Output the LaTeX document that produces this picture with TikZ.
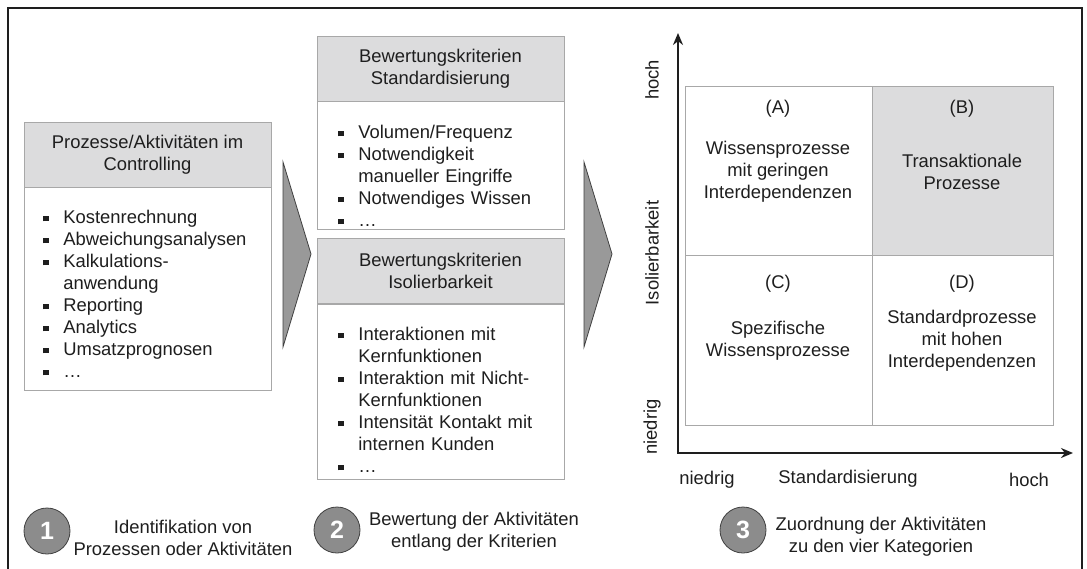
\documentclass[tikz,border=0pt]{standalone}
\usepackage{fontspec}
\setmainfont{Liberation Sans}
\usetikzlibrary{positioning,arrows.meta}
\definecolor{hdrgray}{HTML}{DCDCDD}
\definecolor{boxline}{HTML}{A8A8A8}
\definecolor{chevgray}{HTML}{999999}
\definecolor{stepgray}{HTML}{8C8C8C}
\definecolor{ink}{HTML}{1E1E1E}
\newcommand{\bsq}{\rule[1pt]{2.8pt}{2.8pt}}
\newenvironment{critlist}{\begin{list}{\bsq}{\setlength{\leftmargin}{10pt}\setlength{\labelwidth}{2.8pt}\setlength{\labelsep}{7.2pt}\setlength{\itemsep}{0pt}\setlength{\parsep}{0pt}\setlength{\topsep}{0pt}\setlength{\partopsep}{0pt}}}{\end{list}}
\tikzset{
	hdr/.style={draw=boxline, fill=hdrgray, minimum width=123.5pt, minimum height=32.5pt, align=center, inner sep=0pt, text=ink},
	body/.style={draw=boxline, fill=white, minimum width=123.5pt, inner sep=0pt},
	items/.style={anchor=north west, inner sep=0pt, text width=111pt, align=left, text=ink},
	cell/.style={draw=boxline, inner sep=0pt, minimum height=84.5pt},
	stepnum/.style={circle, draw=ink!85, fill=stepgray, minimum size=23pt, inner sep=0pt, text=white, font=\fontsize{12.5}{14}\selectfont\bfseries},
	steptxt/.style={align=center, text=ink},
	chev/.style={draw=ink!85, fill=chevgray, line join=miter},
	ax/.style={draw=ink, line width=1pt},
}
\begin{document}
\begin{tikzpicture}[x=0.5pt, y=-0.5pt, font=\fontsize{9.2}{11}\selectfont]
\useasboundingbox (0,0) rectangle (1087,568);
\draw[ink, line width=0.8pt] (8,575) -- (8,8) -- (1082,8) -- (1082,575); % frame
% step 1
\node[hdr] (h1) at (147.5,154.5) {Prozesse/Aktivitäten im\\Controlling};
\node[body, minimum height=101.5pt, below=0pt of h1] (b1) {};
\node[items] (l1) at (43,201) {\begin{critlist}
\item Kostenrechnung
\item Abweichungsanalysen
\item Kalkulations-\\anwendung
\item Reporting
\item Analytics
\item Umsatzprognosen
\item \dots
\end{critlist}};
\draw[chev] (283,162) -- (311,254) -- (283,347) -- cycle; % chevron 1
% step 2
\node[hdr] (h2a) at (440.5,68.5) {Bewertungskriterien\\Standardisierung};
\node[body, minimum height=64pt, below=0pt of h2a] (b2a) {};
\node[items] (l2a) at (338,116) {\begin{critlist}
\item Volumen/Frequenz
\item Notwendigkeit\\manueller Eingriffe
\item Notwendiges Wissen
\item \dots
\end{critlist}};
\node[hdr, below=4pt of b2a] (h2b) {Bewertungskriterien\\Isolierbarkeit};
\node[body, minimum height=87.5pt, below=0pt of h2b] (b2b) {};
\node[items] (l2b) at (338,318) {\begin{critlist}
\item Interaktionen mit\\Kernfunktionen
\item Interaktion mit Nicht-\\Kernfunktionen
\item Intensität Kontakt mit\\internen Kunden
\item \dots
\end{critlist}};
\draw[chev] (584,162) -- (612,254) -- (584,347) -- cycle; % chevron 2
% step 3: matrix
\node[cell, minimum width=93.5pt] (qa) at (778.5,170.5) {};
\node[cell, minimum width=90.5pt, fill=hdrgray, right=0pt of qa] (qb) {};
\node[cell, minimum width=93.5pt, minimum height=85pt, below=0pt of qa] (qc) {};
\node[cell, minimum width=90.5pt, minimum height=85pt, below=0pt of qb] (qd) {};
\node[text=ink] (la) at (778,109) {(A)};
\node[text=ink] (lb) at (962,109) {(B)};
\node[text=ink] (lc) at (778,284) {(C)};
\node[text=ink] (ld) at (962,284) {(D)};
\node[steptxt] (ta) at (778,172) {Wissensprozesse\\mit geringen\\Interdependenzen};
\node[steptxt] (tb) at (962,172) {Transaktionale\\Prozesse};
\node[steptxt] (tc) at (778,341) {Spezifische\\Wissensprozesse};
\node[steptxt] (td) at (962,341) {Standardprozesse\\mit hohen\\Interdependenzen};
\coordinate (org) at (678,453);
\coordinate (ytop) at (678,33);
\coordinate (xend) at (1073,453);
\draw[ax, {Stealth[length=6pt,width=5pt]}-{Stealth[length=6pt,width=5pt]}] (ytop) -- (org) -- (xend); % axes
\node[rotate=90, text=ink] (yhi) at (652,80) {hoch};
\node[rotate=90, text=ink] (ylab) at (652,253) {Isolierbarkeit};
\node[rotate=90, text=ink] (ylo) at (652,427) {niedrig};
\node[text=ink] (xlo) at (707,480) {niedrig};
\node[text=ink] (xlab) at (848,479) {Standardisierung};
\node[text=ink] (xhi) at (1029,480) {hoch};
% steps
\node[stepnum] (s1) at (47,531) {1};
\node[steptxt] (t1) at (183,537.5) {Identifikation von\\Prozessen oder Aktivitäten};
\node[stepnum] (s2) at (337,530) {2};
\node[steptxt] (t2) at (474,531.5) {Bewertung der Aktivitäten\\entlang der Kriterien};
\node[stepnum] (s3) at (743,530) {3};
\node[steptxt] (t3) at (881,536.5) {Zuordnung der Aktivitäten\\zu den vier Kategorien};
\end{tikzpicture}
\end{document}
